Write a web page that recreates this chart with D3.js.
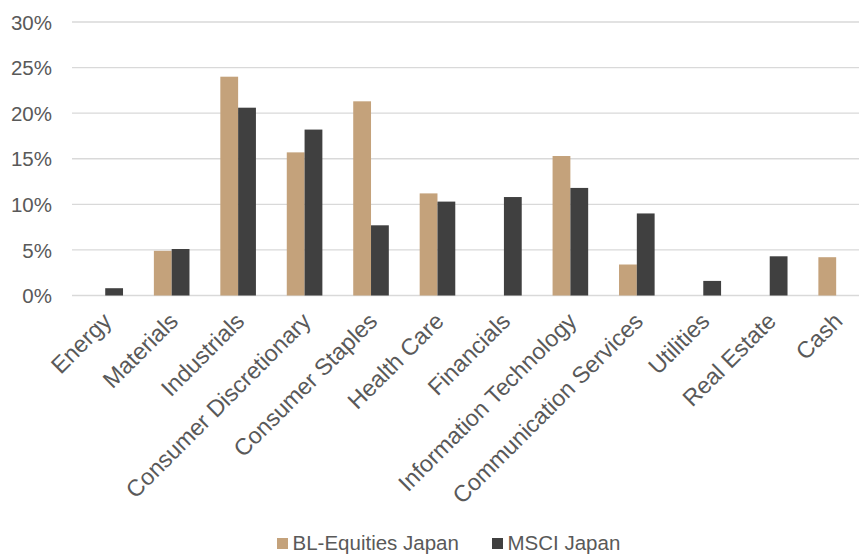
<!DOCTYPE html>
<html>
<head>
<meta charset="utf-8">
<script src="https://cdn.jsdelivr.net/npm/d3@7"></script>
<style>
  body { margin: 0; background: #fff; }
  text { font-family: "Liberation Sans", Arial, sans-serif; fill: #595959; }
</style>
</head>
<body>
<svg id="chart" width="859" height="554"></svg>
<script>
const sectors = [
  'Energy', 'Materials', 'Industrials', 'Consumer Discretionary', 'Consumer Staples',
  'Health Care', 'Financials', 'Information Technology', 'Communication Services',
  'Utilities', 'Real Estate', 'Cash',
];
const seriesNames = ['BL-Equities Japan', 'MSCI Japan'];
const blEquities = [0, 4.9, 24.0, 15.7, 21.3, 11.2, 0, 15.3, 3.4, 0, 0, 4.2];
const msciJapan = [0.8, 5.1, 20.6, 18.2, 7.7, 10.3, 10.8, 11.8, 9.0, 1.6, 4.3, null];
const yTicks = [0, 5, 10, 15, 20, 25, 30];

const seriesColors = ['#c4a27b', '#404040'];

const svg = d3.select('#chart');

const x = d3.scaleBand()
  .domain(sectors)
  .range([72, 869.4]);

const barWidth = 17.8;
const xInner = d3.scaleBand()
  .domain(seriesNames)
  .range([x.bandwidth() / 2 - barWidth, x.bandwidth() / 2 + barWidth]);

const y = d3.scaleLinear()
  .domain([0, 30])
  .range([295.5, 22]);

// gridlines
svg.append('g')
  .selectAll('line')
  .data(yTicks)
  .join('line')
  .attr('x1', 72)
  .attr('x2', 869)
  .attr('y1', (d) => y(d))
  .attr('y2', (d) => y(d))
  .style('stroke', '#d9d9d9')
  .style('stroke-width', 1.3);

// y labels
const yAxis = d3.axisLeft(y)
  .tickValues(yTicks)
  .tickFormat((d) => `${d}%`)
  .tickSize(0)
  .tickPadding(20);

svg.append('g')
  .attr('transform', 'translate(72,0)')
  .call(yAxis)
  .call((g) => g.select('.domain').remove())
  .call((g) => g.selectAll('text')
    .attr('dy', '0.35em')
    .style('font-size', '20.5px')
    .style('fill', '#595959')
    .style('font-family', '"Liberation Sans", Arial, sans-serif'));

// bars
const rows = sectors.map((s, i) => ({ sector: s, values: [blEquities[i], msciJapan[i]] }));

const groups = svg.append('g')
  .selectAll('g')
  .data(rows)
  .join('g')
  .attr('transform', (d) => `translate(${x(d.sector)},0)`);

groups.selectAll('rect')
  .data((d) => d.values.map((v, i) => ({ name: seriesNames[i], value: v, color: seriesColors[i] })))
  .join('rect')
  .filter((d) => d.value)
  .attr('x', (d) => xInner(d.name))
  .attr('width', xInner.bandwidth())
  .attr('y', (d) => y(d.value))
  .attr('height', (d) => y(0) - y(d.value))
  .style('fill', (d) => d.color);

// category labels
svg.append('g')
  .selectAll('text')
  .data(sectors)
  .join('text')
  .attr('transform', (d) => `translate(${x(d) + x.bandwidth() / 2 - 4},311) rotate(-45)`)
  .attr('text-anchor', 'end')
  .attr('dy', '0.71em')
  .style('font-size', '23.3px')
  .text((d) => d);

// legend
const legendItems = [
  { name: seriesNames[0], color: seriesColors[0], x: 277 },
  { name: seriesNames[1], color: seriesColors[1], x: 492 },
];
const legend = svg.append('g')
  .selectAll('g')
  .data(legendItems)
  .join('g')
  .attr('transform', (d) => `translate(${d.x},0)`);

legend.append('rect')
  .attr('y', 538)
  .attr('width', 11)
  .attr('height', 11)
  .style('fill', (d) => d.color);

legend.append('text')
  .attr('x', 15.5)
  .attr('y', 549.5)
  .style('font-size', '20.5px')
  .text((d) => d.name);
</script>
</body>
</html>
